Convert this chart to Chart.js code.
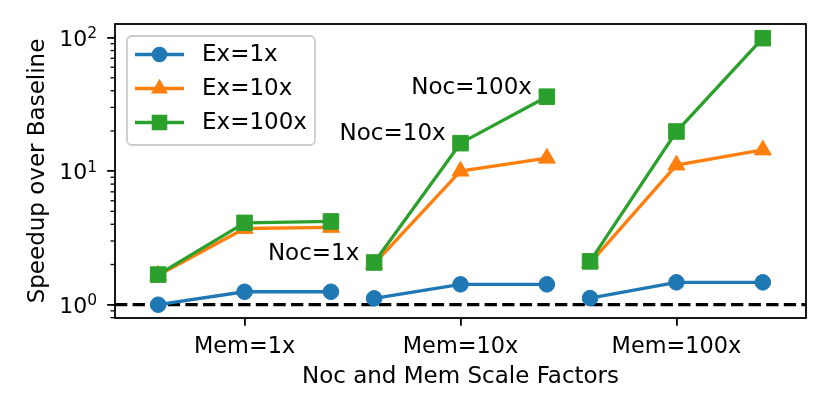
<!DOCTYPE html>
<html>
<head>
<meta charset="utf-8">
<title>Speedup over Baseline</title>
<script src="https://cdn.jsdelivr.net/npm/chart.js@4.4.1/dist/chart.umd.min.js"></script>
<style>
  html, body { margin: 0; padding: 0; background: #fff; }
  #wrap { width: 830px; height: 415px; }
</style>
</head>
<body>
<div id="wrap"><canvas id="speedup-chart" width="830" height="415"></canvas></div>
<script>
// Data
const memLabels = ['Mem=1x', 'Mem=10x', 'Mem=100x'];
const nocLabels = ['Noc=1x', 'Noc=10x', 'Noc=100x'];
const seriesNames = ['Ex=1x', 'Ex=10x', 'Ex=100x'];
// each array: Mem=1x (Noc 1x,10x,100x), Mem=10x (...), Mem=100x (...)
const ex1 = [1.00, 1.25, 1.25, 1.115, 1.42, 1.42, 1.12, 1.47, 1.47];
const ex10 = [1.66, 3.72, 3.79, 2.02, 10.0, 12.5, 2.05, 11.1, 14.4];
const ex100 = [1.68, 4.10, 4.20, 2.07, 16.2, 36.1, 2.11, 19.8, 99.0];
const yTickValues = [1, 10, 100];
const yTickBase = '10';
const yTickExponents = ['0', '1', '2'];
const baseline = 1;

const colors = ['#1f77b4', '#ff7f0e', '#2ca02c'];
const markers = ['circle', 'triangle', 'rect'];
const markerSizes = [7.8, 9.8, 11];
const FONT = '"DejaVu Sans", sans-serif';

Chart.defaults.font.family = FONT;
Chart.defaults.font.size = 23;
Chart.defaults.color = '#000';

// groups sit 2.5 units apart, points 1 unit apart inside a group
function groupX(g, i) {
    return g * 2.5 + i;
}

function toPoints(values) {
    const pts = [];
    for (let g = 0; g < memLabels.length; g++) {
        for (let i = 0; i < nocLabels.length; i++) {
            pts.push({ x: groupX(g, i), y: values[g * nocLabels.length + i] });
        }
        if (g < memLabels.length - 1) pts.push({ x: groupX(g, 2) + 0.25, y: null }); // break the line
    }
    return pts;
}

const allSeries = [ex1, ex10, ex100];
const datasets = allSeries.map((vals, k) => ({
    label: seriesNames[k],
    data: toPoints(vals),
    borderColor: colors[k],
    backgroundColor: colors[k],
    borderWidth: 3.3,
    pointStyle: markers[k],
    pointRadius: markerSizes[k],
    pointHoverRadius: markerSizes[k],
    pointBorderColor: colors[k],
    pointBackgroundColor: colors[k],
    pointBorderWidth: 1,
    spanGaps: false,
    order: 3 - k,
}));

datasets.push({
    label: 'baseline',
    data: [{ x: -0.5, y: baseline }, { x: 7.5, y: baseline }],
    borderColor: '#000',
    borderWidth: 3.3,
    borderDash: [12.3, 5.3],
    borderCapStyle: 'butt',
    pointRadius: 0,
    order: 10,
});

// Noc labels next to the Mem=10x group, in data coordinates (left edge, middle)
const annotations = [
    { text: nocLabels[0], x: 1.27, y: 2.41 },
    { text: nocLabels[1], x: 2.10, y: 19.0 },
    { text: nocLabels[2], x: 2.93, y: 41.8 },
];

function drawMarker(ctx, style, r, x, y) {
    ctx.beginPath();
    if (style === 'circle') {
        ctx.arc(x, y, r, 0, Math.PI * 2);
    } else if (style === 'triangle') {
        ctx.moveTo(x, y - r);
        ctx.lineTo(x + r * Math.sin(Math.PI * 2 / 3), y - r * Math.cos(Math.PI * 2 / 3));
        ctx.lineTo(x - r * Math.sin(Math.PI * 2 / 3), y - r * Math.cos(Math.PI * 2 / 3));
        ctx.closePath();
    } else {
        const s = r * Math.SQRT1_2;
        ctx.rect(x - s, y - s, 2 * s, 2 * s);
    }
    ctx.fill();
}

const annotationPlugin = {
    id: 'nocLabels',
    afterDatasetsDraw(chart) {
        const { ctx, scales } = chart;
        ctx.save();
        ctx.font = '23px ' + FONT;
        ctx.fillStyle = '#000';
        ctx.textAlign = 'left';
        ctx.textBaseline = 'middle';
        annotations.forEach(a => {
            ctx.fillText(a.text, scales.x.getPixelForValue(a.x), scales.y.getPixelForValue(a.y));
        });
        ctx.restore();
    }
};

const framePlugin = {
    id: 'frame',
    afterDraw(chart) {
        const { ctx, chartArea: area, scales } = chart;
        ctx.save();
        // minor log ticks on the y axis
        ctx.strokeStyle = '#000';
        ctx.lineWidth = 1.3;
        for (let d = 0.1; d <= 100; d *= 10) {
            for (let m = 2; m <= 9; m++) {
                const v = m * d;
                if (v < scales.y.min || v > scales.y.max) continue;
                const py = scales.y.getPixelForValue(v);
                ctx.beginPath();
                ctx.moveTo(area.left - 4.5, py);
                ctx.lineTo(area.left, py);
                ctx.stroke();
            }
        }
        // y tick labels as 10 with a raised exponent
        ctx.fillStyle = '#000';
        ctx.textBaseline = 'alphabetic';
        ctx.textAlign = 'right';
        const labelRight = area.left - 18;
        yTickValues.forEach((v, i) => {
            const py = scales.y.getPixelForValue(v);
            ctx.font = '15.5px ' + FONT;
            const supW = ctx.measureText(yTickExponents[i]).width;
            ctx.fillText(yTickExponents[i], labelRight, py + 0.8);
            ctx.font = '22px ' + FONT;
            ctx.fillText(yTickBase, labelRight - supW, py + 8.3);
        });

        // axes box
        ctx.lineWidth = 1.8;
        ctx.strokeRect(area.left, area.top, area.right - area.left, area.bottom - area.top);

        // legend box, upper left
        const bx = 127, by = 36, bw = 188, bh = 109, rr = 5;
        ctx.beginPath();
        ctx.roundRect(bx, by, bw, bh, rr);
        ctx.fillStyle = 'rgba(255,255,255,0.8)';
        ctx.fill();
        ctx.strokeStyle = '#cccccc';
        ctx.lineWidth = 1.8;
        ctx.stroke();

        ctx.font = '23px ' + FONT;
        ctx.textAlign = 'left';
        ctx.textBaseline = 'middle';
        seriesNames.forEach((name, k) => {
            const ly = 54.5 + k * 34;
            ctx.strokeStyle = colors[k];
            ctx.lineWidth = 3.3;
            ctx.beginPath();
            ctx.moveTo(135, ly);
            ctx.lineTo(184, ly);
            ctx.stroke();
            ctx.fillStyle = colors[k];
            drawMarker(ctx, markers[k], markerSizes[k], 159.5, ly);
            ctx.fillStyle = '#000';
            ctx.fillText(name, 202, ly + 1);
        });
        ctx.restore();
    }
};

new Chart(document.getElementById('speedup-chart'), {
    type: 'line',
    data: { datasets },
    options: {
        responsive: false,
        animation: false,
        devicePixelRatio: 1,
        layout: { padding: { left: 0, top: 24, right: 24, bottom: 0 } },
        plugins: {
            legend: { display: false },
            tooltip: { enabled: false },
        },
        scales: {
            x: {
                type: 'linear',
                min: -0.5,
                max: 7.5,
                afterBuildTicks: (scale) => {
                    scale.ticks = memLabels.map((_, g) => ({ value: groupX(g, 1) }));
                },
                afterFit: (scale) => { scale.height = 97; },
                ticks: {
                    autoSkip: false,
                    maxRotation: 0,
                    padding: 8,
                    font: { size: 22.4 },
                    callback: (value, index) => memLabels[index],
                },
                grid: {
                    drawOnChartArea: false,
                    drawTicks: true,
                    tickLength: 7.8,
                    color: '#000',
                    lineWidth: 1.8,
                },
                border: { display: false },
                title: {
                    display: true,
                    text: 'Noc and Mem Scale Factors',
                    padding: { top: 0, bottom: 24 },
                },
            },
            y: {
                type: 'logarithmic',
                min: 0.795,
                max: 126.4,
                afterBuildTicks: (scale) => {
                    scale.ticks = yTickValues.map(v => ({ value: v }));
                },
                afterFit: (scale) => { scale.width = 115; },
                ticks: {
                    display: false,
                    autoSkip: false,
                },
                grid: {
                    drawOnChartArea: false,
                    drawTicks: true,
                    tickLength: 7.8,
                    color: '#000',
                    lineWidth: 1.8,
                },
                border: { display: false },
                title: {
                    display: true,
                    text: 'Speedup over Baseline',
                    padding: { top: 24, bottom: 0 },
                },
            },
        },
    },
    plugins: [annotationPlugin, framePlugin],
});
</script>
</body>
</html>
